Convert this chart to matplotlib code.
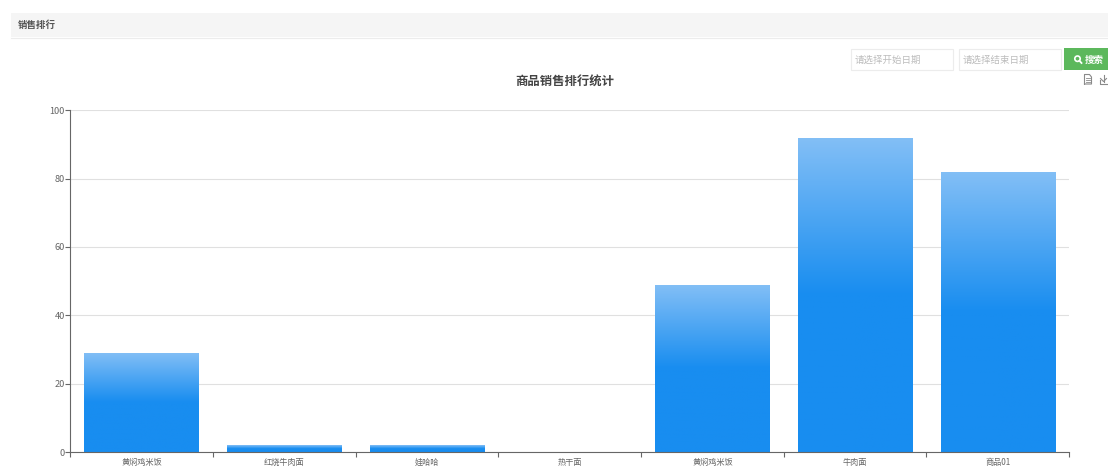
#!/usr/bin/env python3
"""Sales ranking chart, with the page controls around it."""
import numpy as np
import matplotlib
matplotlib.use("Agg")
import matplotlib.pyplot as plt
from matplotlib.colors import LinearSegmentedColormap
from matplotlib.patches import Rectangle, Circle

plt.rcParams['font.family'] = ['Noto Sans CJK SC', 'DejaVu Sans']

categories = ["黄焖鸡米饭", "红烧牛肉面", "娃哈哈", "热干面", "黄焖鸡米饭", "牛肉面", "商品01"]
sales = [29, 2, 2, 0, 49, 92, 82]
y_ticks = [0, 20, 40, 60, 80, 100]

W, H = 1108, 467
fig = plt.figure(figsize=(W / 100, H / 100), dpi=100, facecolor="white")

# page furniture, in pixel coords
page = fig.add_axes([0, 0, 1, 1], zorder=0)
page.set_xlim(0, W); page.set_ylim(H, 0); page.axis("off")
page.add_patch(Rectangle((11, 13), W - 11, 24, fc="#f5f5f5", ec="none"))
page.plot([11, W], [37.5, 37.5], color="#ececec", lw=0.8)
page.text(18, 24.5, "销售排行", fontsize=6.8, fontweight="bold", color="#555555", va="center")
page.text(565, 82, "商品销售排行统计", fontsize=8.9, fontweight="bold", color="#444444", va="center", ha="center")
for x0, w, s in [(851, 102, "请选择开始日期"), (959, 102, "请选择结束日期")]:
    page.add_patch(Rectangle((x0, 48.5), w, 21, fc="white", ec="#ececec", lw=0.8))
    page.text(x0 + 3.5, 60.5, s, fontsize=6.8, color="#bcbcbc", va="center")
page.add_patch(Rectangle((1064, 48), 44, 22, fc="#5cb85c", ec="none"))
page.add_patch(Circle((1077.5, 58.7), 2.7, fc="none", ec="white", lw=1.2))
page.plot([1079.5, 1081.5], [60.8, 63], color="white", lw=1.3)
page.text(1085, 60, "搜索", fontsize=6.8, fontweight="bold", color="white", va="center")
# toolbox icons
icon = "#8a8a8a"
page.plot([1084.5, 1084.5, 1089.5, 1091.5, 1091.5, 1084.5], [84, 74.5, 74.5, 77, 84, 84], color=icon, lw=0.8)
for yy in (77.5, 79.5, 81.5):
    page.plot([1086, 1090], [yy, yy], color=icon, lw=0.6)
page.plot([1103.5, 1103.5], [74.5, 81.5], color=icon, lw=0.8)
page.plot([1100.5, 1103.5, 1106.5], [78.5, 81.5, 78.5], color=icon, lw=0.8)
page.plot([1099.5, 1099.5, 1108], [80, 84, 84], color=icon, lw=0.8)

# chart
ax = fig.add_axes([70.2 / W, 1 - 452.2 / H, 999 / W, 342 / H], zorder=1)
ax.patch.set_alpha(0)
x = np.arange(len(categories))
bars = ax.bar(x, sales, width=0.8, color="#188df0", zorder=2)

# light at the top, solid from halfway down
cmap = LinearSegmentedColormap.from_list("bar", [(0, "#83bff6"), (0.5, "#188df0"), (1, "#188df0")])
grad = np.linspace(0, 1, 256).reshape(-1, 1)
for b in bars:
    if b.get_height() <= 0:
        continue
    im = ax.imshow(grad, cmap=cmap, aspect="auto", zorder=3, vmin=0, vmax=1,
                   extent=(b.get_x(), b.get_x() + b.get_width(), 0, b.get_height()))
    im.set_clip_path(b)
ax.set_xlim(-0.5, len(categories) - 0.5)
ax.set_ylim(0, 100)

ax.set_yticks(y_ticks)
ax.grid(axis="y", color="#e0e0e0", lw=0.8, zorder=1)
ax.set_xticks(np.arange(len(categories) + 1) - 0.5)
ax.set_xticklabels([])
ax.set_xticks(x, minor=True)
ax.set_xticklabels(categories, minor=True)
ax.tick_params(axis="x", which="major", length=3.5, width=0.8, color="#666666")
ax.tick_params(axis="x", which="minor", length=0, pad=9, labelsize=5.9, labelcolor="#666666")
for lab in ax.get_xticklabels(minor=True):
    lab.set_va("baseline")
ax.tick_params(axis="y", length=3.5, width=0.8, color="#666666", pad=0.5, labelsize=6.6, labelcolor="#666666")
for s in ("top", "right"):
    ax.spines[s].set_visible(False)
for s in ("left", "bottom"):
    ax.spines[s].set_color("#666666")
    ax.spines[s].set_linewidth(0.8)
    ax.spines[s].set_zorder(5)

fig.savefig("out.png", dpi=100)
